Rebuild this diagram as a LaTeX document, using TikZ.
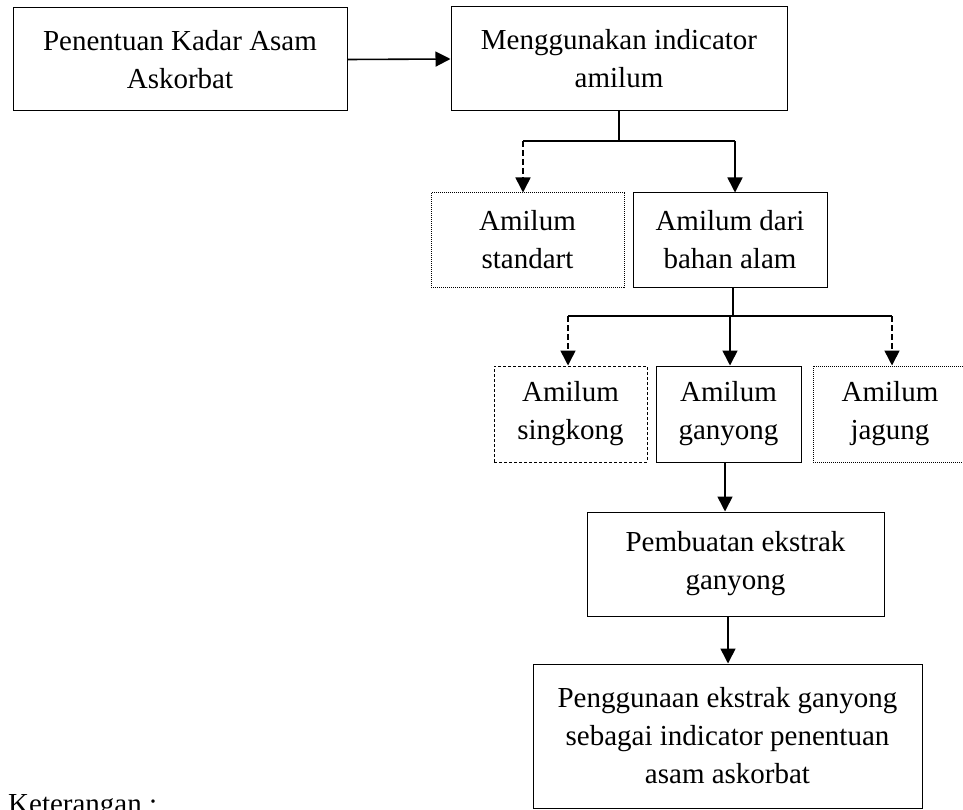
\documentclass[tikz,border=0pt]{standalone}
\usepackage{fontspec}
\setmainfont{Liberation Serif}
\usepackage{tikz}
\usetikzlibrary{arrows.meta}

\begin{document}
\begin{tikzpicture}[x=1pt,y=1pt,yscale=-1,xscale=1,
  kotak/.style={draw,line width=1pt,align=center,inner sep=0pt,
    font=\fontsize{29}{38}\selectfont},
  kotaktitik/.style={kotak,dash pattern=on 1pt off 1pt},
  kotakputus/.style={kotak,dash pattern=on 3pt off 2pt},
  panah/.style={line width=1.6pt,-{Triangle[length=15pt,width=15pt]}},
  putus/.style={dash pattern=on 6pt off 3pt},
  garis/.style={line width=1.6pt}]
\useasboundingbox (0,0) rectangle (963,810);

% Kotak
\node[kotak,minimum width=334,minimum height=103] (kadar) at (180,59.5) {Penentuan Kadar Asam\\Askorbat};
\node[kotak,minimum width=336,minimum height=104] (indikator) at (619,59) {Menggunakan indicator\\amilum};
\node[kotaktitik,minimum width=193,minimum height=94] (standart) at (527.5,240) {Amilum\\standart};
\node[kotak,minimum width=194,minimum height=94] (bahan) at (730,240) {Amilum dari\\bahan alam};
\node[kotakputus,minimum width=153,minimum height=96] (singkong) at (570.5,414) {Amilum\\singkong};
\node[kotak,minimum width=145,minimum height=96] (ganyong) at (728.5,414) {Amilum\\ganyong};
\node[kotaktitik,minimum width=154,minimum height=96] (jagung) at (890,414) {Amilum\\jagung};
\node[kotak,minimum width=297,minimum height=104] (ekstrak) at (735.5,564) {Pembuatan ekstrak\\ganyong};
\node[kotak,minimum width=389,minimum height=144] (penggunaan) at (727.5,736) {Penggunaan ekstrak ganyong\\sebagai indicator penentuan\\asam askorbat};

% Keterangan
\node[anchor=north west,inner sep=0pt,font=\fontsize{29}{38}\selectfont] (ket) at (8,794) {Keterangan :};

% Penghubung
\draw[panah] (kadar.east) -- (indikator.west);

\coordinate (c1) at (619,141);
\draw[garis] (indikator.south) -- (c1);
\draw[garis] (c1 -| 523,0) -- (c1 -| 735,0);
\draw[panah,putus] (c1 -| 523,0) -- (standart.north -| 523,0);
\draw[panah] (c1 -| 735,0) -- (bahan.north -| 735,0);

\coordinate (c2) at (733,316);
\draw[garis] (bahan.south -| c2) -- (c2);
\draw[garis] (c2 -| 568,0) -- (c2 -| 892,0);
\draw[panah,putus] (c2 -| 568,0) -- (singkong.north -| 568,0);
\draw[panah] (c2 -| 730,0) -- (ganyong.north -| 730,0);
\draw[panah,putus] (c2 -| 892,0) -- (jagung.north -| 892,0);

\draw[panah] (ganyong.south -| 725,0) -- (ekstrak.north -| 725,0);
\draw[panah] (ekstrak.south -| 728,0) -- (penggunaan.north -| 728,0);

\end{tikzpicture}
\end{document}
